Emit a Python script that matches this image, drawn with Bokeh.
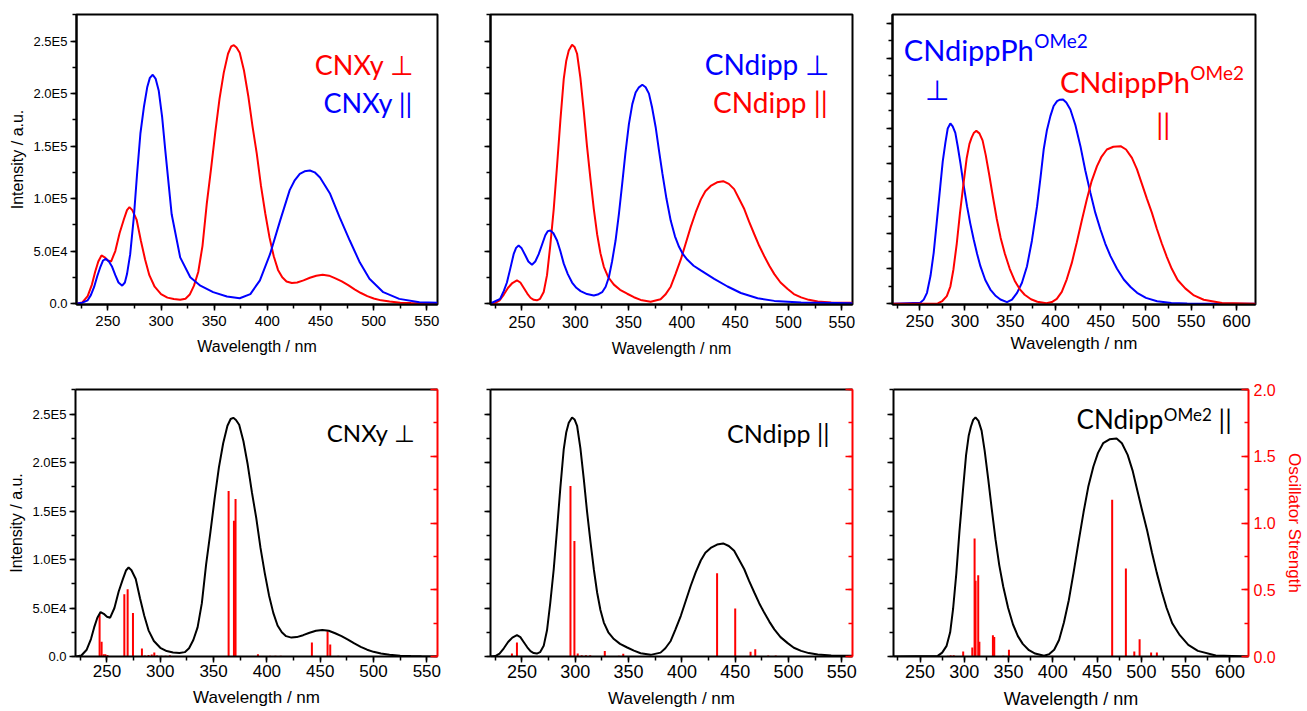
from bokeh.plotting import figure
from bokeh.models import Range1d, LinearAxis, FixedTicker, Label, CustomJSTickFormatter
from bokeh.layouts import column, row
from bokeh.embed import file_html
from bokeh.resources import INLINE

RED = "#ff0000"
BLUE = "#0000ff"
BLACK = "#000000"
TICK_FONT = "Liberation Sans"
TXT_FONT = "Lato"
E5 = 1e5

# ---------------- spectra (intensity in units of 1E5) ----------------
cnxy_perp_nm = [221, 226, 231, 235, 238, 241, 244, 247, 250, 253, 257, 261, 265, 268, 270.3, 273, 277, 281, 285, 289,
                294, 300, 306, 312, 318, 323, 327, 331, 335, 339, 343, 347, 351, 355, 359, 363, 366, 368.5, 371, 374,
                378, 382, 386, 390, 394, 398, 402, 406, 410, 414, 418, 423, 428, 434, 440, 446, 452, 458, 464, 470,
                476, 482, 488, 494, 500, 507, 515, 525, 535, 545, 560]
cnxy_perp_I = [0, 0.01, 0.07, 0.18, 0.3, 0.4, 0.458, 0.44, 0.41, 0.40, 0.5, 0.67, 0.8, 0.89, 0.918, 0.89, 0.8, 0.6, 0.42, 0.27,
               0.16, 0.09, 0.056, 0.042, 0.035, 0.045, 0.085, 0.17, 0.3, 0.55, 0.95, 1.28, 1.63, 1.95, 2.2, 2.38, 2.45, 2.462, 2.44, 2.39,
               2.22, 1.98, 1.69, 1.43, 1.12, 0.86, 0.63, 0.45, 0.32, 0.25, 0.21, 0.195, 0.2, 0.22, 0.245, 0.265, 0.274, 0.265, 0.24, 0.21,
               0.175, 0.135, 0.1, 0.07, 0.048, 0.03, 0.018, 0.008, 0.004, 0.002, 0.0]

cnxy_par_nm = [221, 226, 231, 234, 237, 240, 243, 245.5, 248, 251, 254, 257, 260, 263.5, 266, 268, 271, 274.4, 277.5, 280.6,
               284, 287, 289.5, 292.2, 295, 297.8, 301, 304, 310, 318, 327.5, 337, 349, 362, 374, 384, 393, 402.5, 412,
               421, 425.5, 430.5, 435, 440, 444.5, 449.5, 459, 468, 477.5, 487, 496, 509, 524, 543, 560]
cnxy_par_I = [0, 0.008, 0.03, 0.08, 0.155, 0.26, 0.35, 0.41, 0.426, 0.4, 0.35, 0.27, 0.2, 0.17, 0.2, 0.28, 0.47, 0.82, 1.24, 1.62,
              1.88, 2.06, 2.15, 2.18, 2.14, 2.03, 1.78, 1.46, 0.85, 0.44, 0.25, 0.17, 0.108, 0.067, 0.05, 0.09, 0.22, 0.47, 0.79,
              1.08, 1.17, 1.235, 1.26, 1.267, 1.25, 1.2, 1.045, 0.82, 0.6, 0.39, 0.235, 0.108, 0.044, 0.013, 0.006]

cndipp_perp_nm = [220.5, 229.6, 233, 235.9, 239, 242.2, 244.5, 246.9, 249.5, 253.1, 256, 259.4, 262.5, 265.7, 268.8, 271.9,
                  274.3, 276.6, 279.5, 282.9, 286, 289.2, 293, 297, 301, 305, 311, 317.4, 321, 325.2, 328.5, 331.5, 334.5,
                  337.8, 341, 344, 347, 350.3, 353.5, 356.6, 359.7, 362.9, 366, 369.1, 372, 375.4, 378.5, 381.7, 385.5,
                  389.5, 393.5, 397.3, 401, 405.2, 411, 417.7, 430.3, 442.8, 455.3, 471, 486.7, 511.8, 560]
cndipp_perp_I = [0, 0.045, 0.12, 0.2, 0.33, 0.47, 0.53, 0.553, 0.53, 0.46, 0.4, 0.37, 0.4, 0.47, 0.56, 0.65,
                 0.69, 0.696, 0.67, 0.6, 0.5, 0.38, 0.28, 0.2, 0.15, 0.118, 0.09, 0.076, 0.085, 0.108, 0.16, 0.25, 0.4,
                 0.6, 0.86, 1.14, 1.43, 1.71, 1.9, 2.01, 2.06, 2.084, 2.06, 2.0, 1.87, 1.68, 1.46, 1.24, 1.0,
                 0.79, 0.64, 0.54, 0.47, 0.416, 0.36, 0.315, 0.235, 0.162, 0.1, 0.05, 0.025, 0.01, 0.003]

cndipp_par_nm = [220.5, 225, 229, 233, 237, 241, 245.3, 248.5, 251.6, 255, 258, 261, 264, 267, 270.4, 273.5, 276.6, 279.8,
                 282.9, 286, 289.2, 291.5, 293.9, 297, 299.3, 301.7, 304.8, 308, 311, 314.3, 317.4, 320.5, 323.6, 326.8,
                 331, 336.2, 342, 348.7, 355, 361.3, 370.7, 380, 384.5, 389.5, 394, 399, 403.5, 408.3, 413, 417.7, 422,
                 427, 433, 438.7, 444, 449, 453.5, 458.5, 463, 467.9, 472.5, 477.3, 482, 486.7, 492.5, 499.2, 505,
                 511.8, 519, 527.4, 540, 560]
cndipp_par_I = [0, 0.005, 0.03, 0.085, 0.15, 0.195, 0.22, 0.2, 0.15, 0.095, 0.055, 0.035, 0.03, 0.045, 0.11, 0.27, 0.557, 0.9,
                1.31, 1.74, 2.14, 2.31, 2.41, 2.466, 2.445, 2.38, 2.15, 1.83, 1.5, 1.18, 0.9, 0.66, 0.48, 0.35,
                0.25, 0.18, 0.13, 0.093, 0.06, 0.034, 0.017, 0.04, 0.085, 0.16, 0.28, 0.42, 0.57, 0.73, 0.87, 0.99, 1.07,
                1.12, 1.155, 1.166, 1.14, 1.09, 1.0, 0.9, 0.78, 0.66, 0.55, 0.45, 0.36, 0.28, 0.2, 0.138, 0.09,
                0.058, 0.035, 0.02, 0.01, 0.007]

ome2_perp_nm = [220, 250.7, 254.5, 258.1, 262, 265.5, 269, 272.8, 275.5, 278.4, 281, 283.9, 286.5, 289.4, 292, 295, 298.5,
                302.3, 306, 309.7, 313.5, 317.1, 322.5, 328.1, 333.5, 339.2, 346.5, 352, 357.6, 363, 368.6, 374, 379.7,
                383.5, 387, 390.5, 394.4, 398, 401.8, 405, 408.4, 412, 416.5, 422, 427.6, 433, 438.6, 444, 449.7, 455,
                460.8, 468, 475.5, 483, 490.2, 500, 512.3, 528, 545.5, 621]
ome2_perp_I = [0, 0.014, 0.06, 0.157, 0.4, 0.727, 1.18, 1.678, 2.03, 2.296, 2.5, 2.571, 2.53, 2.438, 2.25, 2.01, 1.7,
               1.393, 1.14, 0.917, 0.71, 0.537, 0.34, 0.204, 0.12, 0.062, 0.024, 0.06, 0.157, 0.3, 0.537, 0.9, 1.393,
               1.8, 2.2, 2.47, 2.676, 2.82, 2.89, 2.91, 2.914, 2.87, 2.77, 2.55, 2.248, 1.9, 1.583, 1.3, 1.06, 0.86,
               0.68, 0.5, 0.347, 0.24, 0.157, 0.085, 0.038, 0.013, 0.005, 0]

ome2_par_nm = [220, 270, 275, 280, 284, 287.3, 291, 294.5, 298.5, 302, 305, 307.4, 310, 312.6, 316, 319.5, 323, 327, 331,
               335.2, 339.5, 344, 349.5, 355, 360.5, 366, 373, 380, 390, 396, 401.5, 407, 412.5, 418, 423.5, 429,
               434.7, 440, 445.8, 451, 456.8, 464, 472, 478, 484.5, 490, 495.5, 501, 506.5, 512, 517.5, 523, 528.5,
               535, 543.4, 553, 563.8, 584, 621]
ome2_par_I = [0, 0.006, 0.04, 0.11, 0.25, 0.49, 0.86, 1.29, 1.72, 2.08, 2.28, 2.37, 2.44, 2.466, 2.43, 2.33, 2.12, 1.83, 1.52,
              1.21, 0.94, 0.72, 0.5, 0.33, 0.21, 0.13, 0.065, 0.03, 0.007, 0.025, 0.07, 0.17, 0.35, 0.58, 0.87, 1.18,
              1.49, 1.75, 1.96, 2.1, 2.2, 2.24, 2.248, 2.2, 2.08, 1.92, 1.71, 1.5, 1.3, 1.07, 0.86, 0.67, 0.5,
              0.34, 0.22, 0.12, 0.058, 0.011, 0]

# ---------------- oscillator strengths (sticks) ----------------
cnxy_stick_nm = [243.1, 245.0, 246.9, 248.5, 250.5, 266.3, 269.4, 274.4, 282.8, 285.5, 289, 292, 294.4, 297, 301, 305, 309,
                 364.1, 369.1, 370.6, 391.6, 403, 408, 413, 442.2, 456.9, 459.4, 467, 476.6]
cnxy_stick_f = [0.317, 0.11, 0.017, 0.017, 0.012, 0.467, 0.504, 0.325, 0.06, 0.008, 0.012, 0.015, 0.03, 0.008, 0.006, 0.006, 0.01,
                1.24, 1.016, 1.18, 0.017, 0.005, 0.005, 0.005, 0.105, 0.19, 0.09, 0.006, 0.005]

cndipp_stick_nm = [240.6, 245.3, 295.5, 299.2, 302.3, 306, 310, 314, 327.7, 340.9, 345, 433, 450, 464.4, 468.8, 481, 488]
cndipp_stick_f = [0.022, 0.105, 1.278, 0.866, 0.022, 0.01, 0.01, 0.01, 0.042, 0.005, 0.02, 0.624, 0.36, 0.035, 0.055, 0.007, 0.007]

ome2_stick_nm = [281.4, 284.5, 288, 298.7, 309, 311.6, 312.7, 315.7, 317, 332.3, 333.8, 344, 350.4, 399.4, 467, 482.5,
                 492, 498, 511, 517.5]
ome2_stick_f = [0.005, 0.01, 0.01, 0.037, 0.067, 0.884, 0.567, 0.609, 0.11, 0.16, 0.147, 0.005, 0.05, 0.005, 1.174, 0.659,
                0.037, 0.13, 0.03, 0.03]

# ---------------- ticks ----------------
x_major_a = [250, 300, 350, 400, 450, 500, 550]
x_minor_a = [225, 250, 275, 300, 325, 350, 375, 400, 425, 450, 475, 500, 525, 550]
x_major_b = [250, 300, 350, 400, 450, 500, 550, 600]
x_minor_b = [225, 250, 275, 300, 325, 350, 375, 400, 425, 450, 475, 500, 525, 550, 575, 600]
y_major = [0, 50000, 100000, 150000, 200000, 250000]
y_minor = [0, 25000, 50000, 75000, 100000, 125000, 150000, 175000, 200000, 225000, 250000, 275000]
y_labels = {0: "0.0", 50000: "5.0E4", 100000: "1.0E5", 150000: "1.5E5", 200000: "2.0E5", 250000: "2.5E5"}
y3_major = [0, 50000, 100000, 150000, 200000, 250000, 300000, 350000, 400000]
y3_minor = [i * 25000 for i in range(17)]
f_major = [0, 0.5, 1.0, 1.5, 2.0]
f_minor = [0, 0.25, 0.5, 0.75, 1.0, 1.25, 1.5, 1.75, 2.0]


def blank():
    return CustomJSTickFormatter(code="return ''")


def make(width, height, bl, br, bt, bb, xr, yr, outline=True):
    p = figure(width=width, height=height, x_range=Range1d(*xr), y_range=Range1d(*yr),
               min_border_left=bl, min_border_right=br, min_border_top=bt, min_border_bottom=bb,
               output_backend="svg", toolbar_location=None)
    p.xgrid.visible = False
    p.ygrid.visible = False
    p.outline_line_color = BLACK if outline else None
    p.outline_line_width = 2
    return p


def style_axis(ax, ticks, minor, lab_size=13, show=True, color=BLACK, inward=False, overrides=None, standoff=4):
    ax.ticker = FixedTicker(ticks=ticks, minor_ticks=minor)
    ax.axis_line_color = color
    ax.axis_line_width = 2
    ax.major_tick_line_color = color
    ax.minor_tick_line_color = color
    ax.major_tick_line_width = 1.5
    ax.minor_tick_line_width = 1.5
    if inward:
        ax.major_tick_in, ax.major_tick_out, ax.minor_tick_in, ax.minor_tick_out = 7, 0, 4, 0
    else:
        ax.major_tick_in, ax.major_tick_out, ax.minor_tick_in, ax.minor_tick_out = 0, 6, 0, 4
    ax.major_label_text_font = TICK_FONT
    ax.major_label_text_font_size = f"{lab_size}px"
    ax.major_label_text_color = color
    if show:
        ax.major_label_standoff = standoff
        if overrides:
            ax.major_label_overrides = overrides
    else:
        ax.major_label_standoff = 0
        ax.formatter = blank()


def xtitle(ax, size, standoff):
    ax.axis_label = "Wavelength / nm"
    ax.axis_label_text_font = TICK_FONT
    ax.axis_label_text_font_style = "normal"
    ax.axis_label_text_font_size = f"{size}px"
    ax.axis_label_text_color = BLACK
    ax.axis_label_standoff = standoff


def ytitle(ax, text, size, standoff, color=BLACK):
    ax.axis_label = text
    ax.axis_label_text_font = TICK_FONT
    ax.axis_label_text_font_style = "normal"
    ax.axis_label_text_font_size = f"{size}px"
    ax.axis_label_text_color = color
    ax.axis_label_standoff = standoff


def lab(p, x, y, text, size, color, align="right"):
    p.add_layout(Label(x=x, y=y, text=text, text_font=TXT_FONT, text_font_size=f"{size}px",
                       text_color=color, text_align=align, text_baseline="alphabetic"))


def scale(vals):
    return [v * E5 for v in vals]


TOP_H, BOT_H = 362, 349
XA = (220.5, 560)
XB = (220, 621)
YT = (-950, 275400)
YB = (0, 275400)

# ---------------- top row ----------------
f1 = make(463, TOP_H, 76, 26, 14, 58, XA, YT)
bx = f1.below[0]
style_axis(bx, x_major_a, x_minor_a, 15, standoff=5)
xtitle(bx, 16, 9)
style_axis(f1.left[0], y_major, y_minor, 13, overrides=y_labels, standoff=3)
ytitle(f1.left[0], "Intensity / a.u.", 16, 5)
f1.line(cnxy_perp_nm, scale(cnxy_perp_I), line_color=RED, line_width=2)
f1.line(cnxy_par_nm, scale(cnxy_par_I), line_color=BLUE, line_width=2)
lab(f1, 538.4, 2.278 * E5, "CNXy ⊥", 27, RED)
lab(f1, 536.8, 1.919 * E5, "CNXy ||", 27, BLUE)

f2 = make(409, TOP_H, 27, 20, 14, 58, XA, YT)
bx = f2.below[0]
style_axis(bx, x_major_a, x_minor_a, 16, standoff=5)
xtitle(bx, 16, 9)
style_axis(f2.left[0], y_major, y_minor, 13, show=False)
f2.line(cndipp_par_nm, scale(cndipp_par_I), line_color=RED, line_width=2)
f2.line(cndipp_perp_nm, scale(cndipp_perp_I), line_color=BLUE, line_width=2)
lab(f2, 538.4, 2.278 * E5, "CNdipp ⊥", 28, BLUE)
lab(f2, 536.8, 1.919 * E5, "CNdipp ||", 28, RED)

f3 = make(434, TOP_H, 20, 51, 14, 57, XB, (-950, 412500))
bx = f3.below[0]
style_axis(bx, x_major_b, x_minor_b, 17, standoff=4)
xtitle(bx, 17, 4)
style_axis(f3.left[0], y3_major, y3_minor, 13, show=False)
f3.line(ome2_perp_nm, scale(ome2_perp_I), line_color=BLUE, line_width=2)
f3.line(ome2_par_nm, scale(ome2_par_I), line_color=RED, line_width=2)
lab(f3, 376.0, 3.626 * E5, "CNdippPh", 29, BLUE)
lab(f3, 376.5, 3.76 * E5, "OMe2", 19, BLUE, align="left")
lab(f3, 269.2, 3.066 * E5, "⊥", 28, BLUE, align="center")
lab(f3, 548.5, 3.175 * E5, "CNdippPh", 29, RED)
lab(f3, 549.0, 3.303 * E5, "OMe2", 19, RED, align="left")
lab(f3, 519.0, 2.57 * E5, "||", 28, RED, align="center")


# ---------------- bottom row ----------------
def bottom(width, bl, br, xr, xmaj, xmin, xlab, xtit, show_y, show_f, curve_nm, curve_I, st_nm, st_f):
    p = make(width, BOT_H, bl, br, 27, 55, xr, YB, outline=False)
    bx = p.below[0]
    style_axis(bx, xmaj, xmin, xlab, standoff=2)
    xtitle(bx, xtit, 8)
    if show_y:
        style_axis(p.left[0], y_major, y_minor, 13, overrides=y_labels, standoff=3)
        ytitle(p.left[0], "Intensity / a.u.", 16, 5)
    else:
        style_axis(p.left[0], y_major, y_minor, 13, show=False)
    top = LinearAxis(ticker=FixedTicker(ticks=[]), formatter=blank())
    top.axis_line_width = 2
    top.axis_line_color = BLACK
    top.major_tick_out = 0
    top.major_label_standoff = 0
    p.add_layout(top, "above")
    p.extra_y_ranges = {"osc": Range1d(0, 2.0)}
    rax = LinearAxis(y_range_name="osc")
    style_axis(rax, f_major, f_minor, 16, show=show_f, color=RED, inward=True, standoff=5)
    if show_f:
        rax.formatter = CustomJSTickFormatter(code="return tick.toFixed(1)")
        ytitle(rax, "Oscillator Strength", 17, 6, color=RED)
    p.add_layout(rax, "right")
    p.segment(x0=st_nm, y0=[0] * len(st_nm), x1=st_nm, y1=st_f, y_range_name="osc",
              line_color=RED, line_width=2)
    p.line(curve_nm, scale(curve_I), line_color=BLACK, line_width=2)
    return p


f4 = bottom(463, 75, 26, XA, x_major_a, x_minor_a, 17, 17, True, False,
            cnxy_perp_nm, cnxy_perp_I, cnxy_stick_nm, cnxy_stick_f)
lab(f4, 539.0, 2.311 * E5, "CNXy ⊥", 24, BLACK)

f5 = bottom(409, 27, 20, XA, x_major_a, x_minor_a, 18, 17, False, False,
            cndipp_par_nm, cndipp_par_I, cndipp_stick_nm, cndipp_stick_f)
lab(f5, 538.4, 2.304 * E5, "CNdipp ||", 25, BLACK)

f6 = bottom(434, 21, 51, XB, x_major_b, x_minor_b, 18, 18, False, True,
            ome2_par_nm, ome2_par_I, ome2_stick_nm, ome2_stick_f)
lab(f6, 524.8, 2.445 * E5, "CNdipp", 26, BLACK)
lab(f6, 525.3, 2.50 * E5, "OMe2", 17, BLACK, align="left")
lab(f6, 594.6, 2.445 * E5, "||", 26, BLACK, align="center")

layout = column(row(f1, f2, f3), row(f4, f5, f6))
open("out.html", "w").write(file_html(layout, INLINE))
